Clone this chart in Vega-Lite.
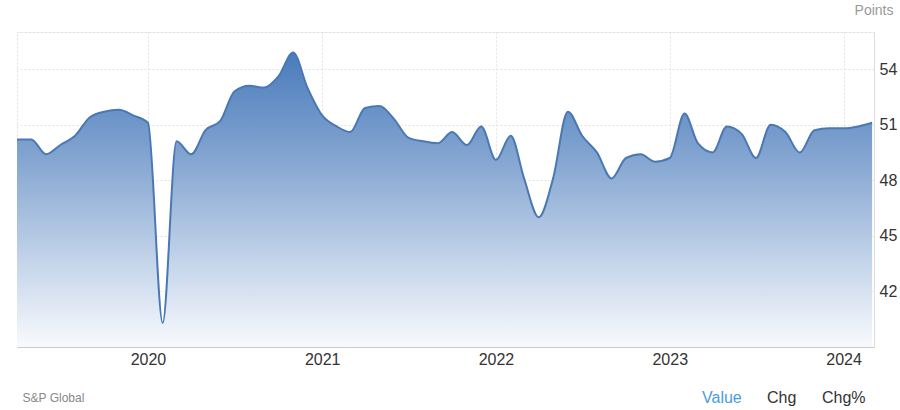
{
  "$schema": "https://vega.github.io/schema/vega-lite/v6.json",
  "width": 857,
  "height": 315,
  "autosize": {"type": "none"},
  "padding": {"left": 17, "top": 32, "right": 26, "bottom": 63},
  "background": "white",
  "config": {
    "font": "Liberation Sans",
    "view": {"stroke": "#dddddd", "strokeDash": [2, 2], "strokeWidth": 1}
  },
  "datasets": {
    "pmi": [
      {"date": "2019-04-01", "value": 50.2}, {"date": "2019-05-01", "value": 50.2}, {"date": "2019-06-01", "value": 49.4},
      {"date": "2019-07-01", "value": 49.9}, {"date": "2019-08-01", "value": 50.4}, {"date": "2019-09-01", "value": 51.4},
      {"date": "2019-10-01", "value": 51.7}, {"date": "2019-11-01", "value": 51.8}, {"date": "2019-12-01", "value": 51.5},
      {"date": "2020-01-01", "value": 51.1}, {"date": "2020-02-01", "value": 40.3}, {"date": "2020-03-01", "value": 50.1},
      {"date": "2020-04-01", "value": 49.4}, {"date": "2020-05-01", "value": 50.7}, {"date": "2020-06-01", "value": 51.2},
      {"date": "2020-07-01", "value": 52.8}, {"date": "2020-08-01", "value": 53.1}, {"date": "2020-09-01", "value": 53.0},
      {"date": "2020-10-01", "value": 53.6}, {"date": "2020-11-01", "value": 54.9}, {"date": "2020-12-01", "value": 53.0},
      {"date": "2021-01-01", "value": 51.5}, {"date": "2021-02-01", "value": 50.9}, {"date": "2021-03-01", "value": 50.6},
      {"date": "2021-04-01", "value": 51.9}, {"date": "2021-05-01", "value": 52.0}, {"date": "2021-06-01", "value": 51.3},
      {"date": "2021-07-01", "value": 50.3}, {"date": "2021-08-01", "value": 50.1}, {"date": "2021-09-01", "value": 50.0},
      {"date": "2021-10-01", "value": 50.6}, {"date": "2021-11-01", "value": 49.9}, {"date": "2021-12-01", "value": 50.9},
      {"date": "2022-01-01", "value": 49.1}, {"date": "2022-02-01", "value": 50.4}, {"date": "2022-03-01", "value": 48.1},
      {"date": "2022-04-01", "value": 46.0}, {"date": "2022-05-01", "value": 48.1}, {"date": "2022-06-01", "value": 51.7},
      {"date": "2022-07-01", "value": 50.4}, {"date": "2022-08-01", "value": 49.5}, {"date": "2022-09-01", "value": 48.1},
      {"date": "2022-10-01", "value": 49.2}, {"date": "2022-11-01", "value": 49.4}, {"date": "2022-12-01", "value": 49.0},
      {"date": "2023-01-01", "value": 49.2}, {"date": "2023-02-01", "value": 51.6}, {"date": "2023-03-01", "value": 50.0},
      {"date": "2023-04-01", "value": 49.5}, {"date": "2023-05-01", "value": 50.9}, {"date": "2023-06-01", "value": 50.5},
      {"date": "2023-07-01", "value": 49.2}, {"date": "2023-08-01", "value": 51.0}, {"date": "2023-09-01", "value": 50.6},
      {"date": "2023-10-01", "value": 49.5}, {"date": "2023-11-01", "value": 50.7}, {"date": "2023-12-01", "value": 50.8},
      {"date": "2024-01-01", "value": 50.8}, {"date": "2024-02-01", "value": 50.9}, {"date": "2024-03-01", "value": 51.1}
    ],
    "tabs": [{"k": "Value"}, {"k": "Chg"}, {"k": "Chg%"}]
  },
  "layer": [
    {
      "data": {"name": "pmi"},
      "mark": {
        "type": "area",
        "interpolate": "monotone",
        "clip": true,
        "color": {
          "gradient": "linear",
          "x1": 0, "y1": 0, "x2": 0, "y2": 1,
          "stops": [
            {"offset": 0, "color": "#4a7bbb"},
            {"offset": 0.35, "color": "#82a4d0"},
            {"offset": 0.65, "color": "#b9cce6"},
            {"offset": 1, "color": "#f8fafd"}
          ]
        }
      },
      "encoding": {
        "x": {
          "field": "date",
          "type": "temporal",
          "scale": {
            "type": "utc",
            "domain": [
              {"year": 2019, "month": 4, "date": 1, "utc": true},
              {"year": 2024, "month": 3, "date": 5, "utc": true}
            ]
          },
          "axis": {
            "format": "%Y",
            "tickCount": {"interval": "year", "step": 1},
            "labelFontSize": 16,
            "labelColor": "#333333",
            "labelPadding": 4,
            "ticks": false,
            "domainColor": "#cccccc",
            "gridColor": "#e3e3e3",
            "gridDash": [2, 2],
            "title": "S&P Global",
            "titleX": 5,
            "titleY": 50,
            "titleAlign": "left",
            "titleBaseline": "middle",
            "titleFontSize": 12,
            "titleFontWeight": "normal",
            "titleColor": "#888888"
          }
        },
        "y": {
          "field": "value",
          "type": "quantitative",
          "scale": {"domain": [39, 56], "zero": false, "nice": false},
          "axis": {
            "orient": "right",
            "values": [42, 45, 48, 51, 54, 56],
            "labelExpr": "datum.value == 56 ? '' : datum.label",
            "labelFontSize": 16,
            "labelColor": "#333333",
            "labelPadding": 5,
            "ticks": false,
            "domainColor": "#dddddd",
            "gridColor": "#e3e3e3",
            "gridDash": [2, 2],
            "title": "Points",
            "titleAngle": 0,
            "titleX": 19,
            "titleY": -22,
            "titleAlign": "right",
            "titleBaseline": "middle",
            "titleFontSize": 14,
            "titleFontWeight": "normal",
            "titleColor": "#999999"
          }
        },
        "y2": {"datum": 39}
      }
    },
    {
      "data": {"name": "pmi"},
      "mark": {"type": "line", "interpolate": "monotone", "color": "#4a78b4", "strokeWidth": 2, "clip": true},
      "encoding": {
        "x": {"field": "date", "type": "temporal"},
        "y": {"field": "value", "type": "quantitative"}
      }
    },
    {
      "data": {"name": "tabs"},
      "mark": {"type": "point", "opacity": 0},
      "encoding": {
        "color": {
          "field": "k",
          "type": "nominal",
          "scale": {"domain": ["Value", "Chg", "Chg%"], "range": ["#4a9be0", "#333333", "#333333"]},
          "legend": {
            "orient": "none",
            "legendX": 669,
            "legendY": 358,
            "direction": "horizontal",
            "title": null,
            "symbolSize": 0,
            "symbolOpacity": 0,
            "symbolStrokeWidth": 0,
            "labelOffset": 0,
            "labelFontSize": 16,
            "columnPadding": 9,
            "labelColor": {"expr": "datum.label === 'Value' ? '#4a9be0' : '#333333'"}
          }
        }
      }
    }
  ]
}
